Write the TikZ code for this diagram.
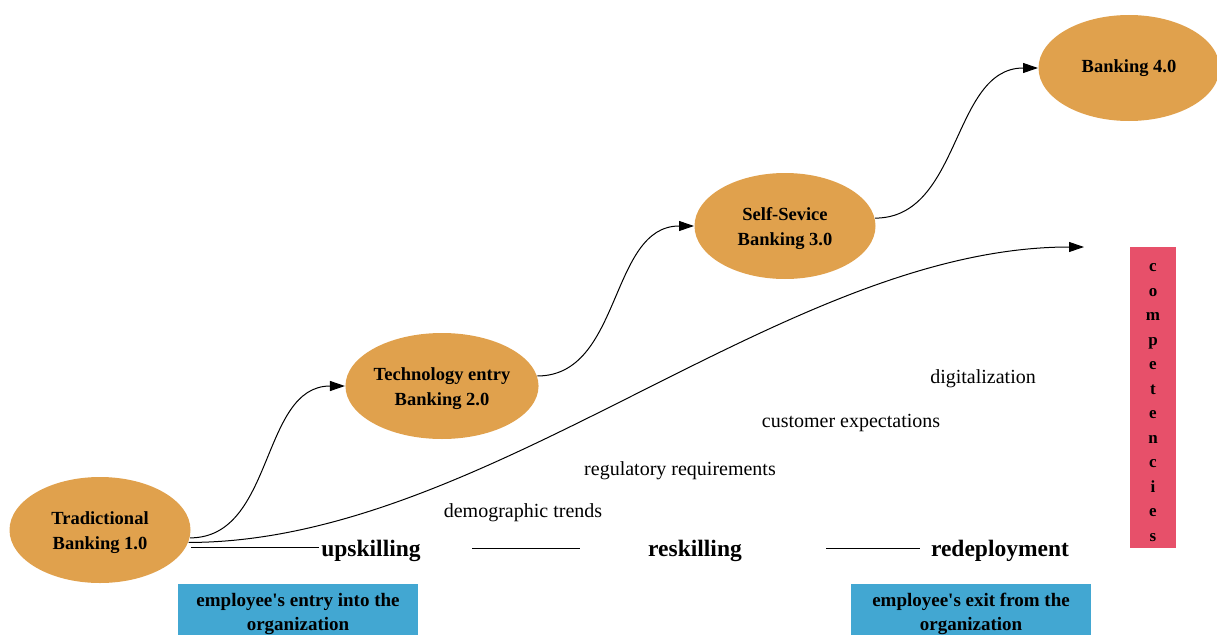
\documentclass[tikz,border=0pt]{standalone}
\usepackage{fontspec}
\setmainfont{Liberation Serif}
\usetikzlibrary{arrows.meta, positioning, shapes.geometric}
\definecolor{bankorange}{RGB}{224,161,77}
\definecolor{boxblue}{RGB}{66,167,210}
\definecolor{barred}{RGB}{231,80,106}
\newcommand{\stagestrut}{\rule{0pt}{18.5pt}}

\begin{document}
\begin{tikzpicture}[x=1pt, y=-1pt, line width=1pt, >={Triangle[length=15pt,width=10pt]}]
  \tikzset{
    stage/.style={
      ellipse,
      fill=bankorange,
      minimum width=181pt,
      minimum height=106pt,
      inner sep=0pt,
      align=center,
      font=\fontsize{18.5}{25}\selectfont\bfseries},
    skill/.style={
      inner sep=2pt,
      text height=22pt,
      text depth=5pt,
      font=\fontsize{23.5}{26}\selectfont\bfseries},
    trend/.style={
      font=\fontsize{20}{22}\selectfont},
    phase/.style={
      fill=boxblue,
      anchor=north,
      minimum width=240pt,
      minimum height=60pt,
      inner ysep=7pt,
      align=center,
      font=\fontsize{19}{24}\selectfont\bfseries}}

  \useasboundingbox (0,0) rectangle (1217,634);

  \node[stage] (b1) at (100,530) {\stagestrut Tradictional\\Banking 1.0};
  \node[stage] (b2) at (442,386) {\stagestrut Technology entry\\Banking 2.0};
  \node[stage] (b3) at (785,226) {\stagestrut Self-Sevice\\Banking 3.0};
  \node[stage] (b4) at (1129,68) {Banking 4.0};

  \node[skill] (up) at (371,548) {upskilling};
  \node[skill] (re) at (695,548) {reskilling};
  \node[skill] (redep) at (1000,548) {redeployment};

  \node[trend] (dem) at (523,513) {demographic trends};
  \node[trend] (reg) at (680,471) {regulatory requirements};
  \node[trend] (cust) at (851,423) {customer expectations};
  \node[trend] (digi) at (983,379) {digitalization};

  \node[phase] (entry) at (298,583) {employee\textquotesingle s entry into the\\organization};
  \node[phase] (exit) at (971,583) {employee\textquotesingle s exit from the\\organization};

  \node[fill=barred, minimum width=46pt, minimum height=301pt, align=center,
        font=\fontsize{17}{24.5}\selectfont\bfseries] (comp) at (1153,397.5)
        {\rule{0pt}{18pt}c\\o\\m\\p\\e\\t\\e\\n\\c\\i\\e\\s};

  \coordinate (tip) at (1084,247);

  \path[->] (b1.-5) edge[out=0, in=180] (b2.west);
  \path[->] (b2.6) edge[out=0, in=180] (b3.west);
  \path[->] (b3.5) edge[out=0, in=180] (b4.west);
  \draw[->] (b1.-8) .. controls +(300,0) and +(-300,0) .. (tip);

  \draw[double, double distance=0.8pt, line width=0.8pt] (b1.east |- up.west) -- (up.west);
  \draw[shorten <=49pt, shorten >=66pt] (up) -- (re);
  \draw[shorten <=82pt, shorten >=9pt] (re) -- (redep);

\end{tikzpicture}
\end{document}
